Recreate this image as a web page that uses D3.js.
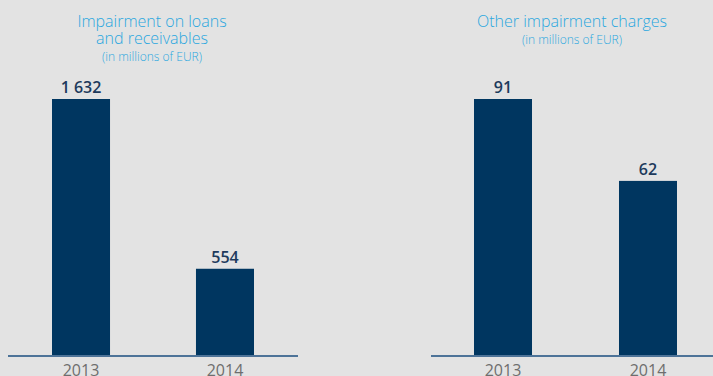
<!DOCTYPE html>
<html>
<head>
<meta charset="utf-8">
<script src="https://cdn.jsdelivr.net/npm/d3@7"></script>
<style>
  html, body { margin: 0; padding: 0; background: #e3e3e3; }
  svg { display: block; }
  text { font-family: "Open Sans", "Noto Sans", sans-serif; }
</style>
</head>
<body>
<svg id="chart" width="713" height="376"></svg>
<script>
// Data
const years = ["2013", "2014"];
const loanImpairment = [1632, 554];
const otherImpairment = [91, 62];
const loanTitle = ["Impairment on loans", "and receivables"];
const otherTitle = ["Other impairment charges"];
const unitLabel = "(in millions of EUR)";

const svg = d3.select("#chart");
const barColor = "#003660";
const titleColor = "#2aa7df";
const baseline = 356;
const topY = 99;

function panel(cfg) {
  const g = svg.append("g");
  const x = d3.scaleBand()
    .domain(years)
    .range(cfg.range)
    .paddingInner(cfg.padIn)
    .paddingOuter(cfg.padOut);
  const y = d3.scaleLinear()
    .domain([0, d3.max(cfg.values)])
    .range([baseline, topY]);

  // title lines
  cfg.title.forEach((t, i) => {
    g.append("text")
      .attr("x", cfg.titleX)
      .attr("y", 27 + i * 17)
      .attr("text-anchor", "middle")
      .attr("fill", titleColor)
      .attr("font-size", 16)
      .attr("font-weight", 300)
      .text(t);
  });
  g.append("text")
    .attr("x", cfg.titleX)
    .attr("y", 27 + cfg.title.length * 17)
    .attr("text-anchor", "middle")
    .attr("fill", titleColor)
    .attr("font-size", 12)
    .attr("font-weight", 300)
    .text(unitLabel);

  // bars
  g.selectAll("rect.bar")
    .data(cfg.values)
    .join("rect")
    .attr("class", "bar")
    .attr("x", (d, i) => x(years[i]))
    .attr("width", x.bandwidth())
    .attr("y", d => y(d))
    .attr("height", d => baseline - y(d))
    .attr("fill", barColor);

  // value labels
  g.selectAll("text.val")
    .data(cfg.values)
    .join("text")
    .attr("class", "val")
    .attr("x", (d, i) => x(years[i]) + x.bandwidth() / 2)
    .attr("y", d => y(d) - 6)
    .attr("text-anchor", "middle")
    .attr("fill", "#1d3a5c")
    .attr("font-size", 16)
    .attr("font-weight", 600)
    .text(d => d3.format(",")(d).replace(/,/g, " "));

  // axis
  const axis = d3.axisBottom(x).tickSize(0).tickPadding(9);
  const ag = g.append("g")
    .attr("transform", `translate(0,${baseline})`)
    .call(axis);
  ag.select(".domain")
    .attr("d", `M${cfg.axisRange[0]},0H${cfg.axisRange[1]}`)
    .attr("stroke", "#4d7398")
    .attr("stroke-width", 2);
  ag.selectAll(".tick text")
    .attr("fill", "#6e6e6e")
    .attr("font-size", 16)
    .attr("font-family", "Open Sans, Noto Sans, sans-serif")
    .attr("dy", "0.71em");
}

panel({
  values: loanImpairment,
  range: [8, 298],
  axisRange: [8, 298],
  padIn: 0.597,
  padOut: 0.3056,
  titleX: 152,
  title: loanTitle
});

panel({
  values: otherImpairment,
  range: [431, 720],
  axisRange: [431, 713],
  padIn: 0.6,
  padOut: 0.2966,
  titleX: 572,
  title: otherTitle
});
</script>
</body>
</html>
